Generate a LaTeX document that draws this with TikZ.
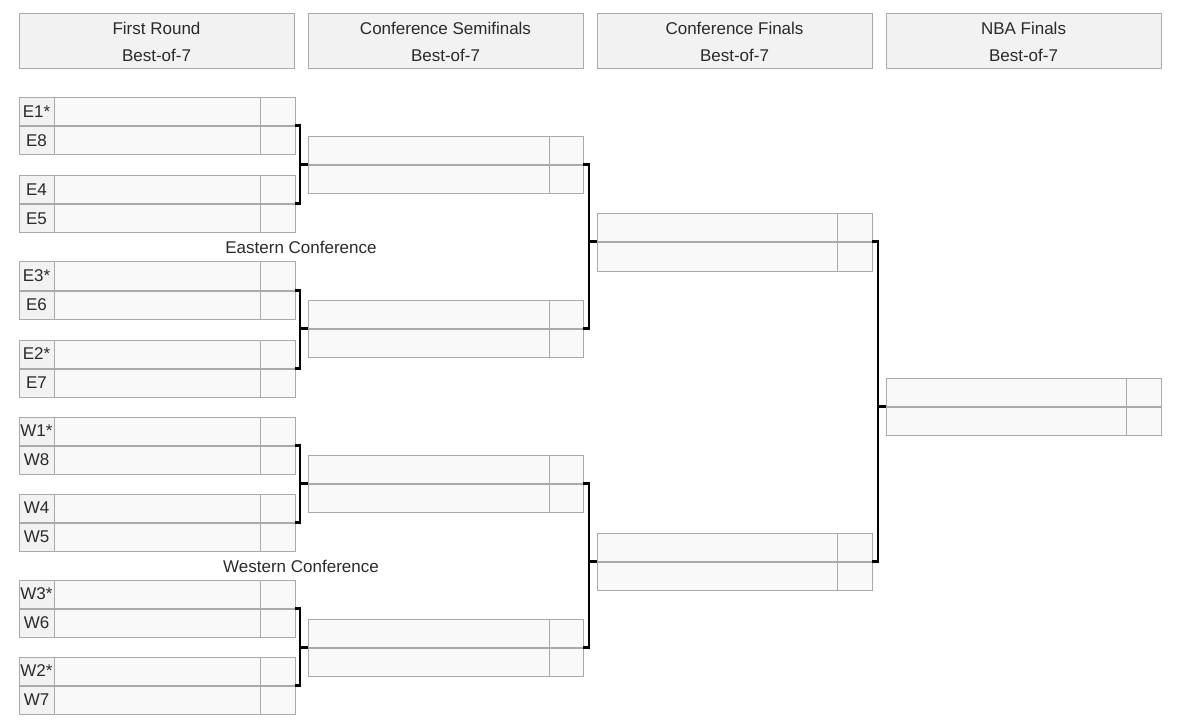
\documentclass[tikz,border=0pt]{standalone}
\usepackage{fontspec}
\setmainfont{Liberation Sans}
\usetikzlibrary{calc}
\definecolor{bord}{HTML}{AAAAAA}
\definecolor{hdrfill}{HTML}{F2F2F2}
\definecolor{cellfill}{HTML}{F9F9F9}
\definecolor{txt}{HTML}{2A2A2A}
\begin{document}
\begin{tikzpicture}[x=1pt,y=-1pt,
  every node/.style={inner sep=0pt,outer sep=0pt,text=txt,font=\fontsize{17}{27}\selectfont},
  box/.style={draw=bord,line width=1pt,anchor=north west,minimum height=28pt},
  hdr/.style={draw=bord,line width=1pt,fill=hdrfill,anchor=north west,minimum width=275pt,minimum height=55pt,align=center},
  seedcell/.style={box,fill=hdrfill,minimum width=35pt},
  teamcell/.style={box,fill=cellfill},
  scorecell/.style={box,fill=cellfill,minimum width=35pt},
  link/.style={draw=black,line width=2pt},
  stub/.style={draw=black,line width=3pt},
  conf/.style={anchor=center}]
\useasboundingbox (0,0) rectangle (1177,727);
% headers
\node[hdr] (h1) at (19,14) {First Round\\Best-of-7};
\node[hdr] (h2) at (308,14) {Conference Semifinals\\Best-of-7};
\node[hdr] (h3) at (597,14) {Conference Finals\\Best-of-7};
\node[hdr] (h4) at (886,14) {NBA Finals\\Best-of-7};
% first round
\foreach \i/\y/\la/\lb in {1/98/E1*/E8,2/176/E4/E5,3/262/E3*/E6,4/340/E2*/E7,5/417/W1*/W8,6/494/W4/W5,7/580/W3*/W6,8/657/W2*/W7}{
  \node[seedcell] (seedA\i) at (19,\y) {\la};
  \node[teamcell,minimum width=206pt] (teamA\i) at (54,\y) {};
  \node[scorecell] (scoreA\i) at (260,\y) {};
  \node[seedcell] (seedB\i) at (19,\y+29) {\lb};
  \node[teamcell,minimum width=206pt] (teamB\i) at (54,\y+29) {};
  \node[scorecell] (scoreB\i) at (260,\y+29) {};
}
% conference semifinals
\foreach \i/\y in {1/137,2/300,3/455,4/619}{
  \node[teamcell,minimum width=241pt] (steamA\i) at (308,\y) {};
  \node[scorecell,minimum width=34pt] (sscoreA\i) at (549,\y) {};
  \node[teamcell,minimum width=241pt] (steamB\i) at (308,\y+29) {};
  \node[scorecell,minimum width=34pt] (sscoreB\i) at (549,\y+29) {};
}
% conference finals
\foreach \i/\y in {1/214,2/533}{
  \node[teamcell,minimum width=240pt] (fteamA\i) at (597,\y) {};
  \node[scorecell] (fscoreA\i) at (837,\y) {};
  \node[teamcell,minimum width=240pt] (fteamB\i) at (597,\y+29) {};
  \node[scorecell] (fscoreB\i) at (837,\y+29) {};
}
% NBA finals
\node[teamcell,minimum width=240pt] (nteamA) at (886,378) {};
\node[scorecell] (nscoreA) at (1126,378) {};
\node[teamcell,minimum width=240pt] (nteamB) at (886,407) {};
\node[scorecell] (nscoreB) at (1126,407) {};
% conference labels
\node[conf] (east) at (301,247) {Eastern Conference};
\node[conf] (west) at (301,566) {Western Conference};
% junction columns
\coordinate (jA) at (299.5,0);
\coordinate (jB) at (589,0);
\coordinate (jC) at (877.5,0);
% first round -> semis
\foreach \a/\b/\s in {1/2/1,3/4/2,5/6/3,7/8/4}{
  \draw[link] (scoreA\a.south east -| jA) -- (scoreA\b.south east -| jA);
  \draw[stub] (scoreA\a.south east) -- ++(6,0);
  \draw[stub] (scoreA\b.south east) -- ++(6,0);
  \draw[stub] (jA |- steamA\s.south west) -- (steamA\s.south west);
}
% semis -> finals
\foreach \a/\b/\s in {1/2/1,3/4/2}{
  \draw[link] (sscoreA\a.south east -| jB) -- (sscoreA\b.south east -| jB);
  \draw[stub] (sscoreA\a.south east) -- ++(7,0);
  \draw[stub] (sscoreA\b.south east) -- ++(7,0);
  \draw[stub] (jB |- fteamA\s.south west) -- (fteamA\s.south west);
}
% finals -> NBA finals
\draw[link] (fscoreA1.south east -| jC) -- (fscoreA2.south east -| jC);
\draw[stub] (fscoreA1.south east) -- ++(6.5,0);
\draw[stub] (fscoreA2.south east) -- ++(6.5,0);
\draw[stub] (jC |- nteamA.south west) -- (nteamA.south west);
\end{tikzpicture}
\end{document}
